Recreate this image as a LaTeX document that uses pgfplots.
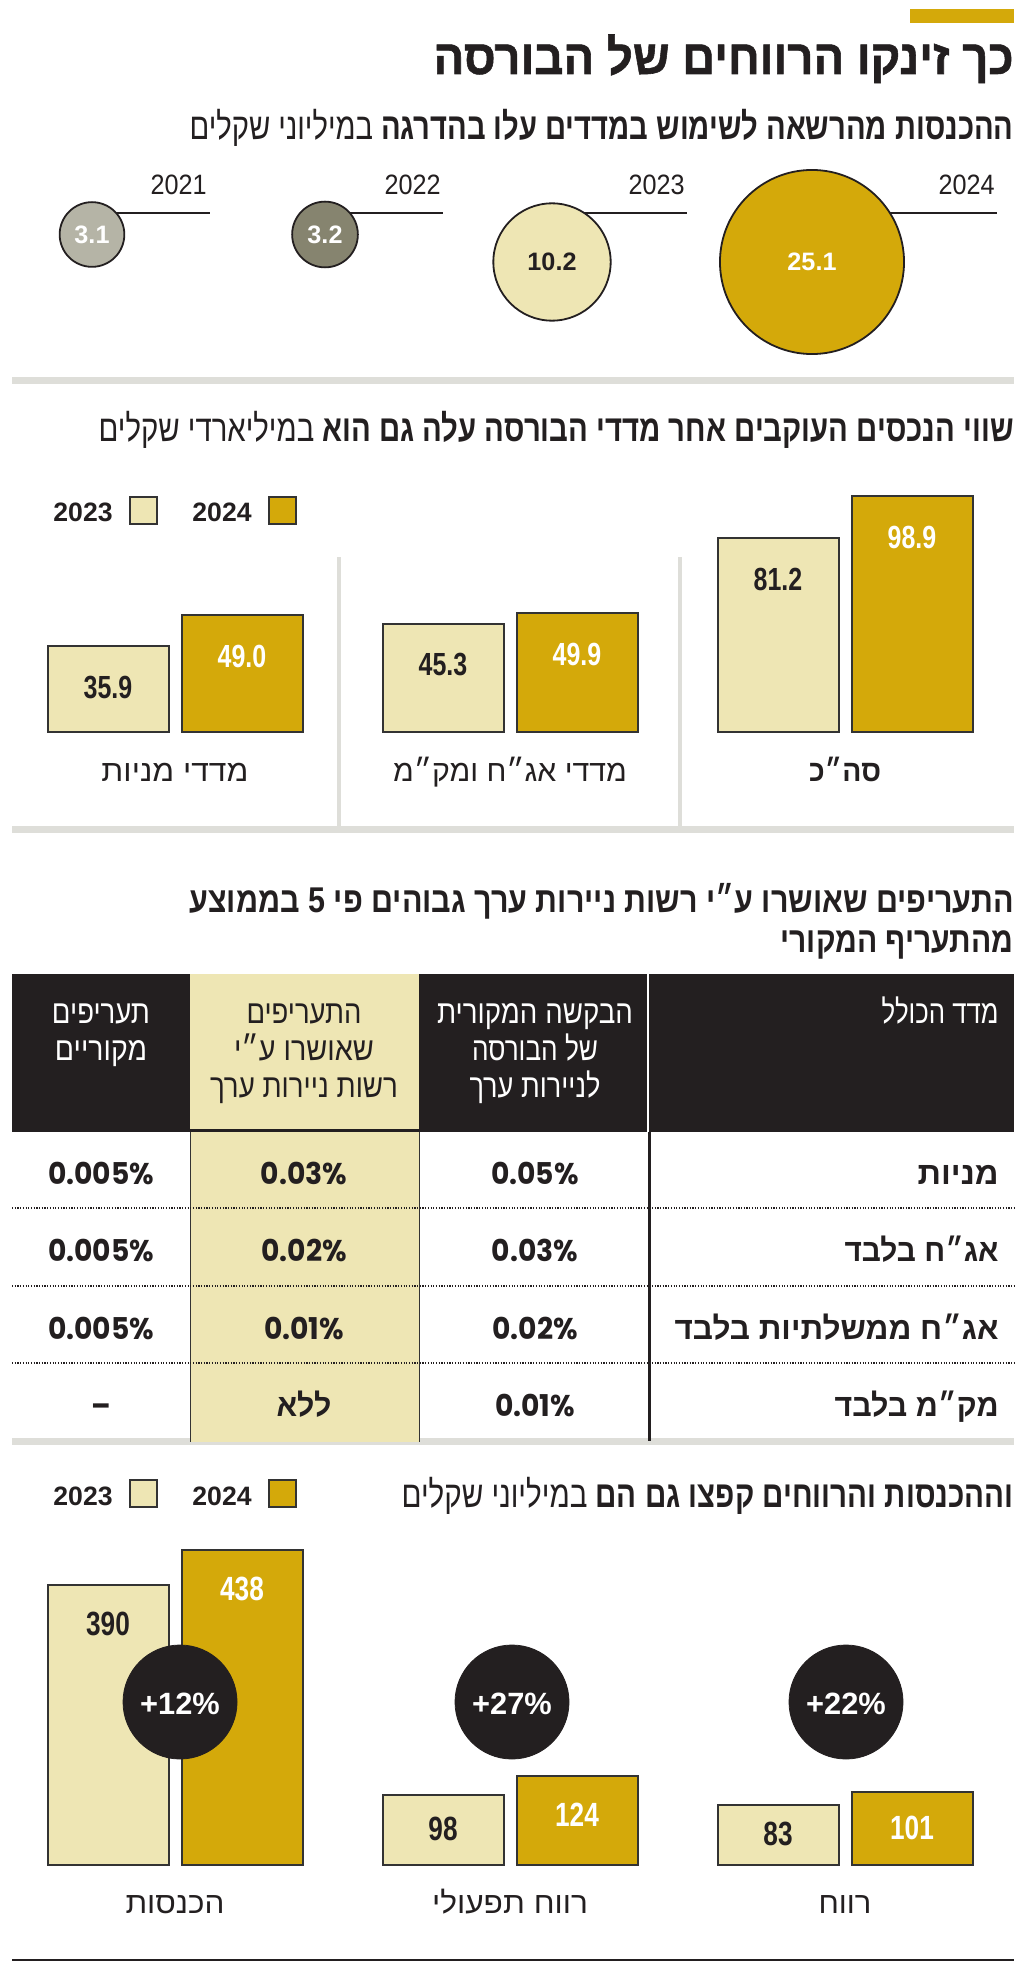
\documentclass[border=0pt]{standalone}
\usepackage{fontspec}
\usepackage{graphicx}
\usepackage{pgfplots}
\usepackage{pgfplotstable}
\pgfplotsset{compat=1.18}
\TeXXeTstate=1
\setmainfont{Liberation Sans}
\newfontfamily\heb[Script=Hebrew]{Liberation Sans}
\newfontfamily\hebH[Script=Hebrew, FakeBold=1.2]{Liberation Sans Bold}
\newfontfamily\cnum[FakeStretch=0.78]{Liberation Sans}
\newfontfamily\ynum[FakeStretch=0.9]{Liberation Sans}
\newfontfamily\pop[FakeStretch=0.94]{Poppins}
\newlength\px \setlength\px{0.5pt}
\newcommand\hb[2]{\resizebox{#1\px}{\height}{\heb #2}}
\newcommand\fs[1]{\fontsize{#1pt}{#1pt}\selectfont}
\definecolor{cgold}{HTML}{D4A90A}
\definecolor{cpale}{HTML}{EEE6B4}
\definecolor{cink}{HTML}{231F20}
\definecolor{csep}{HTML}{DEDED9}
\definecolor{cgrayA}{HTML}{B5B4A6}
\definecolor{cgrayB}{HTML}{86846F}
\definecolor{cline}{HTML}{333333}

% bubbles: x,y = centre in layout px (y measured upward from 360px), v = value (million NIS)
\pgfplotstableread{
x y v
92 125.5 3.1
}\bubA
\pgfplotstableread{
x y v
325 125.5 3.2
}\bubB
\pgfplotstableread{
x y v
552 98 10.2
}\bubC
\pgfplotstableread{
x y v
812 98 25.1
}\bubD
% bubble radius (pt) proportional to sqrt(value)
\pgfplotstablegetelem{0}{v}\of\bubA \pgfmathsetmacro\rA{9.185*sqrt(\pgfplotsretval)}
\pgfplotstablegetelem{0}{v}\of\bubB \pgfmathsetmacro\rB{9.185*sqrt(\pgfplotsretval)}
\pgfplotstablegetelem{0}{v}\of\bubC \pgfmathsetmacro\rC{9.185*sqrt(\pgfplotsretval)}
\pgfplotstablegetelem{0}{v}\of\bubD \pgfmathsetmacro\rD{9.185*sqrt(\pgfplotsretval)}
% assets (billion NIS): 0 = equity indices, 1 = bonds & T-bills, 2 = total
\pgfplotstableread{
x v
0 35.9
1 45.3
2 81.2
}\assetsA
\pgfplotstableread{
x v
0 49.0
1 49.9
2 98.9
}\assetsB
% revenue and profit (million NIS): 0 = revenue, 1 = operating profit, 2 = profit
\pgfplotstableread{
x v
0 390
1 98
2 83
}\finA
\pgfplotstableread{
x v
0 438
1 124
2 101
}\finB

\begin{document}
\begin{tikzpicture}
\begin{scope}[x=0.5pt,y=-0.5pt]
\path[use as bounding box] (0,0) rectangle (1024,1962);
% ---------- section 1 ----------
\fill[cgold] (910,9) rectangle (1014,23);
\node[anchor=base east, inner sep=0pt, text=cink, font=\fs{24.3}] at (1014,74) {\resizebox{290pt}{\height}{\hebH\beginR כך זינקו הרווחים של הבורסה\endR}};
\node[anchor=base east, inner sep=0pt, text=cink, font=\fs{18.6}] at (1014,140) {\hb{824}{\beginR{\bfseries ההכנסות מהרשאה לשימוש במדדים עלו בהדרגה} במיליוני שקלים\endR}};
\foreach \xx/\yy in {207/2021, 441/2022, 685/2023, 995/2024}
  \node[anchor=base east, inner sep=0pt, text=cink, font=\ynum\fs{14}] at (\xx,195) {\yy};
\fill[csep] (12,377) rectangle (1014,384);
% ---------- section 2 ----------
\node[anchor=base east, inner sep=0pt, text=cink, font=\fs{18.6}] at (1014,442) {\hb{915}{\beginR{\bfseries שווי הנכסים העוקבים אחר מדדי הבורסה עלה גם הוא} במיליארדי שקלים\endR}};
\node[anchor=base east, inner sep=0pt, text=cink, font=\bfseries\fs{13.3}] at (113,522) {2023};
\filldraw[fill=cpale, draw=cline, line width=0.75pt] (130,497) rectangle (157,524);
\node[anchor=base east, inner sep=0pt, text=cink, font=\bfseries\fs{13.3}] at (252,522) {2024};
\filldraw[fill=cgold, draw=cline, line width=0.75pt] (269,497) rectangle (296,524);
\fill[csep] (337,557) rectangle (341,827);
\fill[csep] (678,557) rectangle (682,827);
\fill[csep] (12,826) rectangle (1014,833);
% ---------- section 3 ----------
\node[anchor=base east, inner sep=0pt, text=cink, font=\fs{17.9}\bfseries] at (1014,912) {\hb{824}{\beginR התעריפים שאושרו ע״י רשות ניירות ערך גבוהים פי 5 בממוצע\endR}};
\node[anchor=base east, inner sep=0pt, text=cink, font=\fs{17.9}\bfseries] at (1014,952) {\hb{233}{\beginR מהתעריף המקורי\endR}};
\fill[cink] (12,974) rectangle (1014,1132);
\fill[cpale] (190,974) rectangle (419,1129);
\fill[white] (647,974) rectangle (649,1132);
\fill[csep] (12,1438) rectangle (1014,1445);
\fill[cpale] (190,1132) rectangle (419,1442);
\draw[cline, line width=0.5pt] (190,1132) -- (190,1442) (419,1132) -- (419,1442);
\foreach \yy in {1208,1286,1363}
  \draw[cink, line width=0.7pt, dash pattern=on 0.6pt off 0.75pt] (12,\yy) -- (1014,\yy);
\fill[cink] (647.5,1132) rectangle (650.5,1441);
% header texts
\begin{scope}[every node/.style={inner sep=0pt, font=\fs{16.4}}]
\node[anchor=base east, text=white] at (999,1023) {\hb{117}{\beginR מדד הכולל\endR}};
\node[anchor=base, text=white] at (535,1023) {\hb{196}{\beginR הבקשה המקורית\endR}};
\node[anchor=base, text=white] at (535,1060) {\hb{126}{\beginR של הבורסה\endR}};
\node[anchor=base, text=white] at (535,1097) {\hb{131}{\beginR לניירות ערך\endR}};
\node[anchor=base, text=cink] at (304,1023) {\hb{115}{\beginR התעריפים\endR}};
\node[anchor=base, text=cink] at (304,1060) {\hb{140}{\beginR שאושרו ע״י\endR}};
\node[anchor=base, text=cink] at (304,1097) {\hb{188}{\beginR רשות ניירות ערך\endR}};
\node[anchor=base, text=white] at (101,1023) {\hb{98}{\beginR תעריפים\endR}};
\node[anchor=base, text=white] at (101,1060) {\hb{92}{\beginR מקוריים\endR}};
\end{scope}
% rows
\begin{scope}[every node/.style={inner sep=0pt, text=cink}]
\node[anchor=base east, font=\fs{15.7}\bfseries] at (999,1184) {\hb{81}{\beginR מניות\endR}};
\node[anchor=base east, font=\fs{15.7}\bfseries] at (999,1261) {\hb{154}{\beginR אג״ח בלבד\endR}};
\node[anchor=base east, font=\fs{15.7}\bfseries] at (999,1339) {\hb{324}{\beginR אג״ח ממשלתיות בלבד\endR}};
\node[anchor=base east, font=\fs{15.7}\bfseries] at (999,1416) {\hb{164}{\beginR מק״מ בלבד\endR}};
\foreach \yy/\a/\b/\c in {1184/0.05/0.03/0.005, 1261/0.03/0.02/0.005, 1339/0.02/0.01/0.005}{
  \node[anchor=base, font=\pop\bfseries\fs{15}] at (535,\yy) {\a\%};
  \node[anchor=base, font=\pop\bfseries\fs{15}] at (304,\yy) {\b\%};
  \node[anchor=base, font=\pop\bfseries\fs{15}] at (101,\yy) {\c\%};
}
\node[anchor=base, font=\pop\bfseries\fs{15}] at (535,1416) {0.01\%};
\node[anchor=base, font=\fs{15.7}\bfseries] at (304,1416) {\hb{55}{\beginR ללא\endR}};
\node[anchor=base, font=\pop\bfseries\fs{15}] at (101,1416) {–};
\end{scope}
% ---------- section 4 ----------
\node[anchor=base east, inner sep=0pt, text=cink, font=\fs{18.6}] at (1014,1507) {\hb{612}{\beginR{\bfseries וההכנסות והרווחים קפצו גם הם} במיליוני שקלים\endR}};
\node[anchor=base east, inner sep=0pt, text=cink, font=\bfseries\fs{13.3}] at (113,1505) {2023};
\filldraw[fill=cpale, draw=cline, line width=0.75pt] (130,1480) rectangle (157,1507);
\node[anchor=base east, inner sep=0pt, text=cink, font=\bfseries\fs{13.3}] at (252,1505) {2024};
\filldraw[fill=cgold, draw=cline, line width=0.75pt] (269,1480) rectangle (296,1507);
\fill[cink] (12,1959) rectangle (1014,1961);
\end{scope}

% ===== bubbles =====
\begin{axis}[at={(0pt,-75pt)}, anchor=north west, scale only axis, width=512pt, height=105pt,
  xmin=0, xmax=1024, ymin=0, ymax=210, hide axis, clip=false,
  /pgf/number format/assume math mode=true,
  bub/.style={only marks, mark=*, point meta=\thisrow{v},
    nodes near coords={\pgfmathprintnumber[fixed,fixed zerofill,precision=1]{\pgfplotspointmeta}},
    every node near coord/.append style={anchor=south, inner sep=0pt, yshift=-5pt, font=\bfseries\fs{12.6}}}]
\addplot[cink, line width=1.25pt] coordinates {(92,147) (210,147)};
\addplot[cink, line width=1.25pt] coordinates {(325,147) (443,147)};
\addplot[cink, line width=1.25pt] coordinates {(552,147) (687,147)};
\addplot[cink, line width=1.25pt] coordinates {(812,147) (997,147)};
\addplot[bub, mark size=\rA pt, mark options={fill=cgrayA, draw=cink, line width=0.9pt}, every node near coord/.append style={text=white}] table[x=x,y=y] {\bubA};
\addplot[bub, mark size=\rB pt, mark options={fill=cgrayB, draw=cink, line width=0.9pt}, every node near coord/.append style={text=white}] table[x=x,y=y] {\bubB};
\addplot[bub, mark size=\rC pt, mark options={fill=cpale, draw=cink, line width=0.9pt}, every node near coord/.append style={text=cink}] table[x=x,y=y] {\bubC};
\addplot[bub, mark size=\rD pt, mark options={fill=cgold, draw=cink, line width=0.9pt}, every node near coord/.append style={text=white}] table[x=x,y=y] {\bubD};
\end{axis}

% ===== assets bars =====
\begin{axis}[at={(0pt,-366pt)}, anchor=south west, scale only axis, width=512pt, height=131.3pt,
  xmin=-0.52239, xmax=2.53433, ymin=0, ymax=110, clip=false,
  axis line style={draw=none}, major tick length=0pt, ytick=\empty,
  xtick={0,1,2},
  xticklabels={{\hb{147}{\beginR מדדי מניות\endR}},{\hb{234}{\beginR מדדי אג״ח ומק״מ\endR}},{\bfseries\hb{72}{\beginR סה״כ\endR}}},
  xticklabel style={anchor=base, inner sep=0pt, yshift=-24.5pt, font=\fs{15}, text=cink},
  /pgf/number format/assume math mode=true]
\addplot[ybar, bar width=60.5pt, bar shift=-33.5pt, fill=cpale, draw=cline, line width=1pt,
  nodes near coords={\pgfmathprintnumber[fixed,fixed zerofill,precision=1]{\pgfplotspointmeta}},
  every node near coord/.append style={anchor=south, inner sep=0pt, xshift=-33.5pt, yshift=-26.75pt, text=cink, font=\cnum\bfseries\fs{16}}]
  table[x=x,y=v] {\assetsA};
\addplot[ybar, bar width=60.5pt, bar shift=33.5pt, fill=cgold, draw=cline, line width=1pt,
  nodes near coords={\pgfmathprintnumber[fixed,fixed zerofill,precision=1]{\pgfplotspointmeta}},
  every node near coord/.append style={anchor=south, inner sep=0pt, xshift=33.5pt, yshift=-26.75pt, text=white, font=\cnum\bfseries\fs{16}}]
  table[x=x,y=v] {\assetsB};
\end{axis}

% ===== revenue / profit bars =====
\begin{axis}[at={(0pt,-932.5pt)}, anchor=south west, scale only axis, width=512pt, height=179.6pt,
  xmin=-0.52239, xmax=2.53433, ymin=0, ymax=500, clip=false,
  axis line style={draw=none}, major tick length=0pt, ytick=\empty,
  xtick={0,1,2},
  xticklabels={{\hb{99}{\beginR הכנסות\endR}},{\hb{156}{\beginR רווח תפעולי\endR}},{\hb{53}{\beginR רווח\endR}}},
  xticklabel style={anchor=base, inner sep=0pt, yshift=-24pt, font=\fs{15}, text=cink},
  /pgf/number format/assume math mode=true]
\addplot[ybar, bar width=60.5pt, bar shift=-33.5pt, fill=cpale, draw=cline, line width=1pt,
  visualization depends on={\thisrow{v} \as \bval},
  nodes near coords={\pgfmathprintnumber[fixed,precision=0]{\pgfplotspointmeta}},
  every node near coord/.append style={anchor=south, inner sep=0pt, xshift=-33.5pt, yshift={-(min(40,0.359*\bval)+12)*0.5pt}, text=cink, font=\cnum\bfseries\fs{16.8}}]
  table[x=x,y=v] {\finA};
\addplot[ybar, bar width=60.5pt, bar shift=33.5pt, fill=cgold, draw=cline, line width=1pt,
  visualization depends on={\thisrow{v} \as \bval},
  nodes near coords={\pgfmathprintnumber[fixed,precision=0]{\pgfplotspointmeta}},
  every node near coord/.append style={anchor=south, inner sep=0pt, xshift=33.5pt, yshift={-(min(40,0.359*\bval)+12)*0.5pt}, text=white, font=\cnum\bfseries\fs{16.8}}]
  table[x=x,y=v] {\finB};
\addplot[only marks, mark=*, mark size=28.5pt, mark options={fill=cink, draw=cink},
  point meta=explicit symbolic, nodes near coords,
  every node near coord/.append style={anchor=south, inner sep=0pt, yshift=-6.5pt, text=white, font=\bfseries\fs{15.4}}]
  coordinates {(0.015,226.9) [+12\%] (1.006,226.9) [+27\%] (2.003,226.9) [+22\%]};
\end{axis}
\end{tikzpicture}
\end{document}
